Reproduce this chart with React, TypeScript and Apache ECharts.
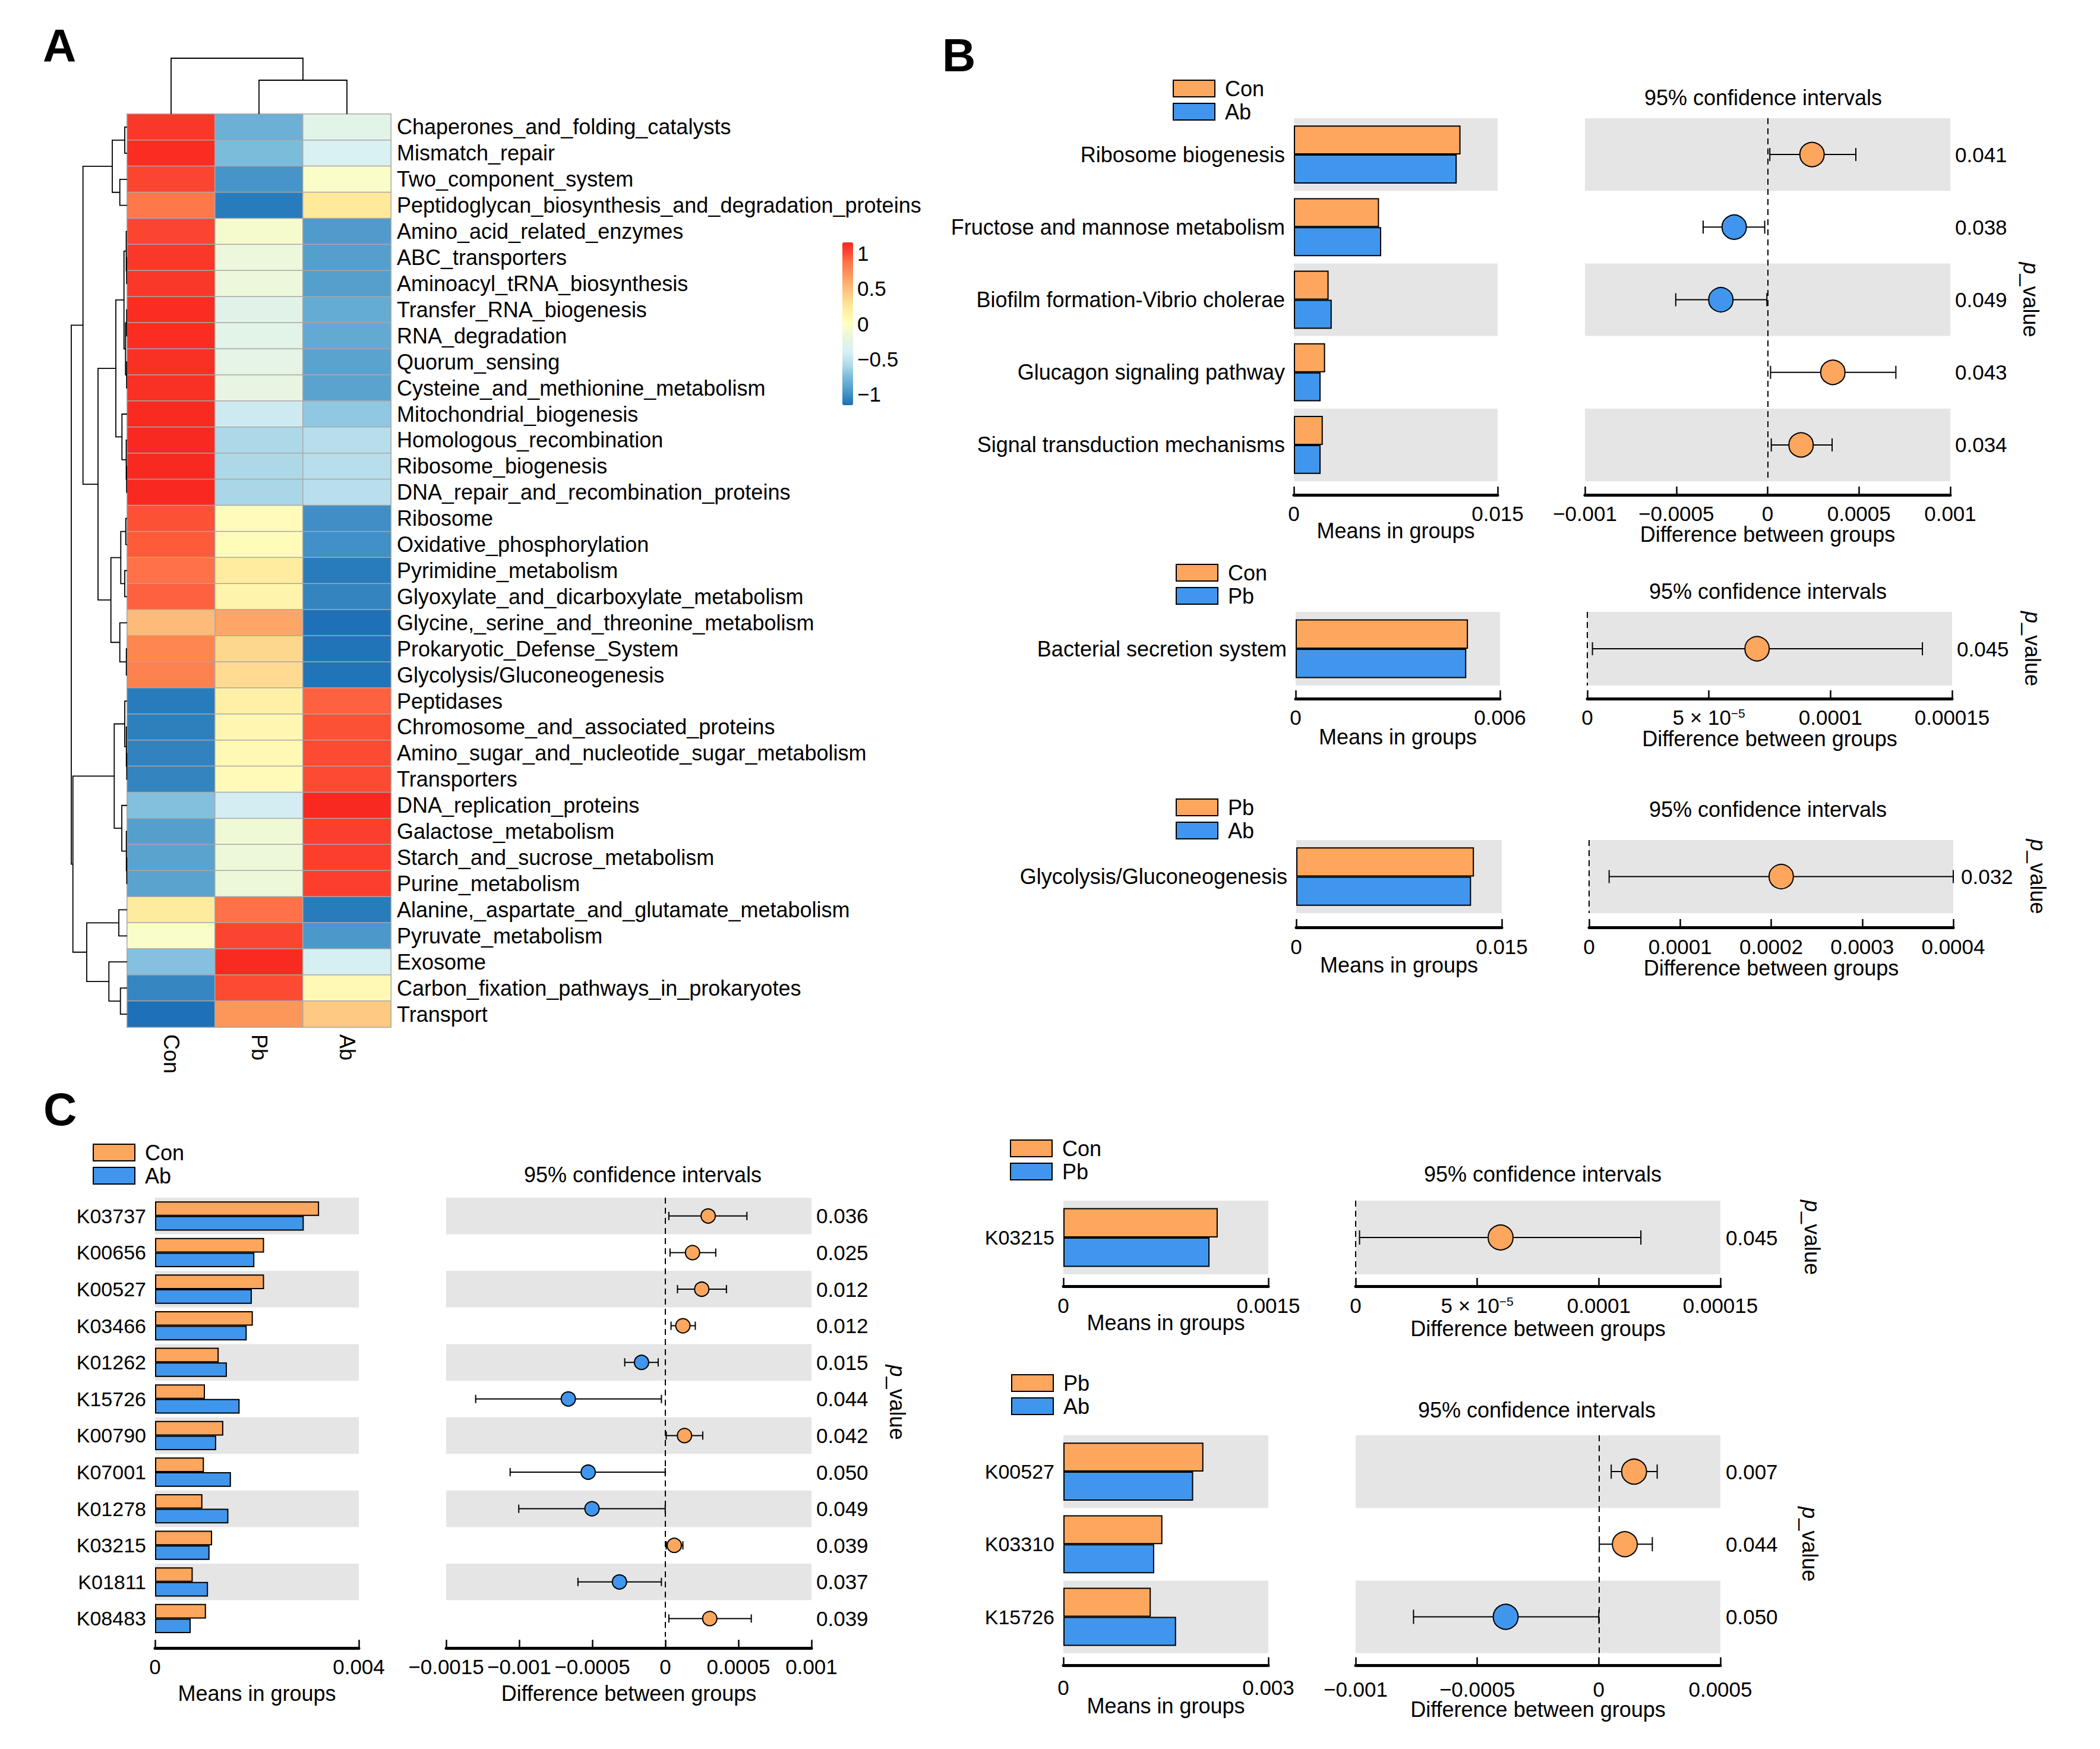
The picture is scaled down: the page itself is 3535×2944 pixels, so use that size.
import React, { useEffect, useRef } from 'react';
import * as echarts from 'echarts';

const FONT = '"Liberation Sans", Arial, Helvetica, sans-serif';
const ORANGE = '#FDA65D';
const BLUE = '#4096EC';
const GREY = '#E5E5E5';

// ---------------- Panel A: heatmap ----------------
const hmRows = [
  'Chaperones_and_folding_catalysts', 'Mismatch_repair', 'Two_component_system',
  'Peptidoglycan_biosynthesis_and_degradation_proteins', 'Amino_acid_related_enzymes', 'ABC_transporters',
  'Aminoacyl_tRNA_biosynthesis', 'Transfer_RNA_biogenesis', 'RNA_degradation', 'Quorum_sensing',
  'Cysteine_and_methionine_metabolism', 'Mitochondrial_biogenesis', 'Homologous_recombination',
  'Ribosome_biogenesis', 'DNA_repair_and_recombination_proteins', 'Ribosome', 'Oxidative_phosphorylation',
  'Pyrimidine_metabolism', 'Glyoxylate_and_dicarboxylate_metabolism', 'Glycine,_serine_and_threonine_metabolism',
  'Prokaryotic_Defense_System', 'Glycolysis/Gluconeogenesis', 'Peptidases', 'Chromosome_and_associated_proteins',
  'Amino_sugar_and_nucleotide_sugar_metabolism', 'Transporters', 'DNA_replication_proteins', 'Galactose_metabolism',
  'Starch_and_sucrose_metabolism', 'Purine_metabolism', 'Alanine,_aspartate_and_glutamate_metabolism',
  'Pyruvate_metabolism', 'Exosome', 'Carbon_fixation_pathways_in_prokaryotes', 'Transport',
];
const hmCols = ['Con', 'Pb', 'Ab'];
const hmCon = [1.08, 1.13, 1.02, 0.85, 1.02, 1.08, 1.08, 1.13, 1.13, 1.12, 1.12, 1.14, 1.15, 1.15, 1.15,
  0.98, 0.95, 0.88, 0.93, 0.52, 0.78, 0.8, -1.1, -1.08, -1.07, -1.06, -0.73, -0.92, -0.9, -0.9,
  0.23, -0.05, -0.72, -1.05, -1.14];
const hmPb = [-0.82, -0.75, -0.98, -1.1, -0.08, -0.16, -0.16, -0.28, -0.27, -0.22, -0.2, -0.45, -0.6, -0.6, -0.61,
  0.03, 0.05, 0.22, 0.13, 0.62, 0.35, 0.33, 0.17, 0.1, 0.07, 0.06, -0.42, -0.12, -0.15, -0.15,
  0.88, 1.02, 1.14, 1.0, 0.7];
const hmAb = [-0.26, -0.38, -0.04, 0.25, -0.94, -0.92, -0.92, -0.85, -0.86, -0.9, -0.9, -0.69, -0.55, -0.55, -0.54,
  -1.01, -1.0, -1.1, -1.06, -1.14, -1.13, -1.13, 0.93, 0.98, 1.0, 1.0, 1.15, 1.05, 1.05, 1.05,
  -1.1, -0.96, -0.41, 0.07, 0.44];
// node = leaf index | [height, left, right]
const rowTree: any = [94,
  [74.3,
    [25, [4, 0, 1], [12.3, 2, 3]],
    [49,
      [19,
        [5.3, [1.5, 4, [0.8, 5, 6]], [2.7, [0.8, 7, 8], [0.8, 9, 10]]],
        [8.7, 11, [1.5, 12, [0.8, 13, 14]]]],
      [27.3,
        [10.7, [2.3, 15, 16], [4, 17, 18]],
        [12.3, 19, [1.3, 20, 21]]]]],
  [91.3,
    [21.7,
      [4, 22, [1.3, 23, [0.6, 24, 25]]],
      [9, 26, [1.3, 27, [0.6, 28, 29]]]],
    [68,
      [14, 30, 31],
      [30.7, 32, [11.3, 33, 34]]]]];
const colTree: any = [94, 0, [57, 1, 2]];
const hmTicks = [1, 0.5, 0, -0.5, -1];
const HM_MIN = -1.155;
const HM_MAX = 1.155;
const hmColorStops: [number, string][] = [
  [-1.155, '#1A6DB6'], [-1.1, '#2A7CBB'], [-1.0, '#4290C6'], [-0.9, '#5AA3CF'], [-0.75, '#7BBCDB'],
  [-0.6, '#ADD8E8'], [-0.4, '#D8F0F4'], [-0.2, '#E7F5E2'], [0, '#FFFFC0'], [0.25, '#FFE99A'],
  [0.5, '#FDBE7C'], [0.7, '#FD9659'], [0.88, '#FF7248'], [1.0, '#FD4A33'], [1.155, '#F8281F'],
];

// ---------------- Panel B ----------------
const b1Terms = ['Ribosome biogenesis', 'Fructose and mannose metabolism', 'Biofilm formation-Vibrio cholerae',
  'Glucagon signaling pathway', 'Signal transduction mechanisms'];
const b1Con = [0.01227, 0.00627, 0.00256, 0.0023, 0.00213];
const b1Ab = [0.01199, 0.00643, 0.00279, 0.00197, 0.00197];
const b1Diff = [0.000243, -0.000183, -0.000256, 0.000357, 0.000183];
const b1Lo = [0.000012, -0.000353, -0.000503, 0.000016, 0.00002];
const b1Hi = [0.000483, -0.000016, -0.000004, 0.000702, 0.000353];
const b1P = ['0.041', '0.038', '0.049', '0.043', '0.034'];

const b2Terms = ['Bacterial secretion system'];
const b2Con = [0.00506];
const b2Pb = [0.00501];
const b2Diff = [0.0000698];
const b2Lo = [0.0000021];
const b2Hi = [0.0001378];
const b2P = ['0.045'];

const b3Terms = ['Glycolysis/Gluconeogenesis'];
const b3Pb = [0.01297];
const b3Ab = [0.01276];
const b3Diff = [0.000211];
const b3Lo = [0.000022];
const b3Hi = [0.0004];
const b3P = ['0.032'];

// ---------------- Panel C ----------------
const c1Terms = ['K03737', 'K00656', 'K00527', 'K03466', 'K01262', 'K15726', 'K00790', 'K07001', 'K01278', 'K03215', 'K01811', 'K08483'];
const c1Con = [0.00322, 0.00214, 0.00214, 0.00192, 0.00125, 0.00098, 0.00134, 0.00096, 0.00093, 0.00112, 0.00074, 0.001];
const c1Ab = [0.00292, 0.00195, 0.0019, 0.0018, 0.00141, 0.00166, 0.0012, 0.00149, 0.00144, 0.00107, 0.00104, 0.0007];
const c1Diff = [0.000293, 0.000186, 0.000249, 0.00012, -0.000163, -0.000664, 0.000131, -0.000528, -0.000502, 0.000061, -0.000314, 0.000304];
const c1Lo = [0.000024, 0.000032, 0.000083, 0.000039, -0.000278, -0.001298, 0.000006, -0.001062, -0.001003, 0.000006, -0.000598, 0.000024];
const c1Hi = [0.000558, 0.000345, 0.000418, 0.000205, -0.000049, -0.000027, 0.000256, -0.000001, -0.000001, 0.00012, -0.000027, 0.000588];
const c1P = ['0.036', '0.025', '0.012', '0.012', '0.015', '0.044', '0.042', '0.050', '0.049', '0.039', '0.037', '0.039'];

const c2Terms = ['K03215'];
const c2Con = [0.00113];
const c2Pb = [0.00107];
const c2Diff = [0.0000596];
const c2Lo = [0.0000016];
const c2Hi = [0.0001173];
const c2P = ['0.045'];

const c3Terms = ['K00527', 'K03310', 'K15726'];
const c3Pb = [0.00205, 0.00145, 0.00128];
const c3Ab = [0.0019, 0.00133, 0.00165];
const c3Diff = [0.000145, 0.000107, -0.000383];
const c3Lo = [0.000051, 0.000002, -0.000762];
const c3Hi = [0.00024, 0.00022, 0];
const c3P = ['0.007', '0.044', '0.050'];

// ---------------- helpers ----------------
function hexRgb(h: string) {
  const n = parseInt(h.slice(1), 16);
  return [(n >> 16) & 255, (n >> 8) & 255, n & 255];
}
function buildPalette(n: number) {
  const out: string[] = [];
  const s = hmColorStops;
  const min = s[0][0], max = s[s.length - 1][0];
  for (let i = 0; i < n; i++) {
    const v = min + ((max - min) * i) / (n - 1);
    let j = 0;
    while (j < s.length - 2 && v > s[j + 1][0]) j++;
    const t = Math.max(0, Math.min(1, (v - s[j][0]) / (s[j + 1][0] - s[j][0])));
    const a = hexRgb(s[j][1]), b = hexRgb(s[j + 1][1]);
    const c = a.map((x, k) => Math.round(x + (b[k] - x) * t));
    out.push(`rgb(${c[0]},${c[1]},${c[2]})`);
  }
  return out;
}
function treeSegs(node: any, out: number[][][]): { pos: number; h: number } {
  if (typeof node === 'number') return { pos: node + 0.5, h: 0 };
  const [h, l, r] = node;
  const a = treeSegs(l, out);
  const b = treeSegs(r, out);
  out.push([[a.h, a.pos], [h, a.pos], [h, b.pos], [b.h, b.pos]]);
  return { pos: (a.pos + b.pos) / 2, h };
}
const minus = (s: string) => s.replace('-', '\u2212');
function fmtNum(v: number) {
  if (Math.abs(v) < 1e-12) return '0';
  return minus(String(Number(v.toPrecision(6))));
}
function fmtCI(v: number) {
  if (Math.abs(v - 5e-5) < 1e-10) return '5 \u00d7 10{s|\u22125}';
  return fmtNum(v);
}

function buildOption() {
  const grid: any[] = [];
  const xAxis: any[] = [];
  const yAxis: any[] = [];
  const series: any[] = [];
  const legend: any[] = [];
  const graphic: any[] = [];
  const txt = (x: number, y: number, text: string, size: number, extra: any = {}) => ({
    type: 'text', x, y, silent: true,
    style: {
      text, fontSize: size, fontFamily: FONT, fill: '#000',
      align: 'center', textAlign: 'center', verticalAlign: 'middle', textVerticalAlign: 'middle', ...extra,
    },
  });
  const addGrid = (g: any) => { grid.push({ outerBoundsMode: 'none', containLabel: false, ...g }); return grid.length - 1; };

  // heatmap grid
  const HM_TOP = 192, HM_H = 1537;
  const gh = addGrid({ left: 214, top: HM_TOP, width: 444, height: HM_H });
  xAxis.push({
    gridIndex: gh, type: 'category', data: hmCols, axisLine: { show: false }, axisTick: { show: false },
    splitLine: { show: false },
    axisLabel: { rotate: -90, margin: 12, fontSize: 36, fontFamily: FONT, color: '#000', interval: 0 },
  });
  yAxis.push({
    gridIndex: gh, type: 'category', data: hmRows, inverse: true, position: 'right',
    axisLine: { show: false }, axisTick: { show: false }, splitLine: { show: false },
    axisLabel: { margin: 10, fontSize: 36, fontFamily: FONT, color: '#000', interval: 0 },
  });
  const hmData: any[] = [];
  hmRows.forEach((_, r) => {
    [hmCon, hmPb, hmAb].forEach((arr, c) => hmData.push([c, r, arr[r]]));
  });
  series.push({
    type: 'heatmap', xAxisIndex: gh, yAxisIndex: gh, data: hmData,
    itemStyle: { borderColor: '#A8A8A8', borderWidth: 1.5 }, emphasis: { disabled: true },
  });

  // row dendrogram
  const gr = addGrid({ left: 100, top: HM_TOP, width: 114, height: HM_H });
  xAxis.push({ gridIndex: gr, type: 'value', min: 0, max: 114, inverse: true, show: false });
  yAxis.push({ gridIndex: gr, type: 'value', min: 0, max: hmRows.length, inverse: true, show: false });
  const rowSegs: number[][][] = [];
  treeSegs(rowTree, rowSegs);
  series.push({
    type: 'lines', coordinateSystem: 'cartesian2d', xAxisIndex: gr, yAxisIndex: gr, polyline: true, silent: true,
    data: rowSegs.map((c) => ({ coords: c })), lineStyle: { color: '#000', width: 1.8, opacity: 1 },
  });

  // column dendrogram
  const gcd = addGrid({ left: 214, top: 92, width: 444, height: 100 });
  xAxis.push({ gridIndex: gcd, type: 'value', min: 0, max: hmCols.length, show: false });
  yAxis.push({ gridIndex: gcd, type: 'value', min: 0, max: 100, show: false });
  const colSegs: number[][][] = [];
  treeSegs(colTree, colSegs);
  series.push({
    type: 'lines', coordinateSystem: 'cartesian2d', xAxisIndex: gcd, yAxisIndex: gcd, polyline: true, silent: true,
    data: colSegs.map((c) => ({ coords: c.map(([h, p]) => [p, h]) })), lineStyle: { color: '#000', width: 1.8, opacity: 1 },
  });

  // heatmap legend labels
  const LEG_TOP = 408, LEG_H = 274;
  hmTicks.forEach((v) => {
    const y = LEG_TOP + ((HM_MAX - v) / (HM_MAX - HM_MIN)) * LEG_H;
    graphic.push(txt(1443, y, fmtNum(v), 35, { align: 'left', textAlign: 'left' }));
  });

  // ---- comparison panels ----
  const addPanel = (d: any, L: any) => {
    const n = d.terms.length;
    const h = n * L.rowH;
    const valAxis = (gi: number, min: number, max: number, step: number, name: string, nameGap: number, fmt: any, margin: number) => ({
      gridIndex: gi, type: 'value', min, max, interval: step, offset: L.axisOffset,
      axisLine: { show: true, onZero: false, lineStyle: { color: '#000', width: 5 } },
      axisTick: { show: true, inside: true, length: 14, lineStyle: { color: '#000', width: 2.5 } },
      splitLine: { show: false },
      axisLabel: {
        margin, fontSize: 35, fontFamily: FONT, color: '#000', formatter: fmt,
        showMinLabel: true, showMaxLabel: true, hideOverlap: false,
        rich: { s: { fontSize: 21, fontFamily: FONT, color: '#000', verticalAlign: 'top' } },
      },
      name, nameLocation: 'middle', nameGap, nameMoveOverlap: false,
      nameTextStyle: { fontSize: 36, fontFamily: FONT, color: '#000' },
    });
    const catAxis = (gi: number) => ({
      gridIndex: gi, type: 'category', data: d.terms, inverse: true,
      axisLine: { show: false }, axisTick: { show: false }, splitLine: { show: false },
      splitArea: { show: true, interval: 0, areaStyle: { color: [GREY, 'rgba(255,255,255,0)'] } },
    });
    // bars
    const gb = addGrid({ left: L.barLeft, top: L.top, width: L.barWidth, height: h });
    xAxis.push(valAxis(gb, 0, L.barMax, L.barMax, 'Means in groups', L.barNameGap, fmtNum, L.labelMargin));
    yAxis.push({ ...catAxis(gb), axisLabel: { interval: 0, margin: 15, fontSize: L.catSize, fontFamily: FONT, color: '#000' } });
    const n1 = `${d.id}|${d.g1Name}`;
    const n2 = `${d.id}|${d.g2Name}`;
    series.push({
      type: 'bar', name: n1, xAxisIndex: gb, yAxisIndex: gb, data: d.g1, barGap: '0%', barCategoryGap: '20%',
      itemStyle: { color: ORANGE, borderColor: '#000', borderWidth: 2 }, emphasis: { disabled: true },
    });
    series.push({
      type: 'bar', name: n2, xAxisIndex: gb, yAxisIndex: gb, data: d.g2, barGap: '0%', barCategoryGap: '20%',
      itemStyle: { color: BLUE, borderColor: '#000', borderWidth: 2 }, emphasis: { disabled: true },
    });
    // CI
    const gc = addGrid({ left: L.ciLeft, top: L.top, width: L.ciWidth, height: h });
    xAxis.push(valAxis(gc, L.ciMin, L.ciMax, L.ciStep, 'Difference between groups', L.ciNameGap, fmtCI, L.ciLabelMargin));
    yAxis.push({
      ...catAxis(gc), position: 'right',
      axisLabel: { interval: 0, margin: L.pMargin, fontSize: 35, fontFamily: FONT, color: '#000', formatter: (_v: any, i: number) => d.p[i] },
      name: '{i|p}_value', nameLocation: 'middle', nameRotate: -90, nameGap: L.pGap, nameMoveOverlap: false,
      nameTextStyle: {
        fontSize: 36, fontFamily: FONT, color: '#000', padding: L.pPad,
        rich: { i: { fontSize: 36, fontFamily: FONT, fontStyle: 'italic', color: '#000' } },
      },
    });
    const r = L.r, cap = L.cap;
    series.push({
      type: 'custom', xAxisIndex: gc, yAxisIndex: gc, clip: false,
      data: d.diff.map((m: number, i: number) => [m, i, d.lo[i], d.hi[i]]),
      encode: { x: [0, 2, 3], y: 1 },
      renderItem: (_p: any, api: any) => {
        const m = api.value(0);
        const yi = api.value(1);
        const pc = api.coord([m, yi]);
        const pl = api.coord([api.value(2), yi]);
        const ph = api.coord([api.value(3), yi]);
        const ls = { stroke: '#000', lineWidth: 2 };
        return {
          type: 'group',
          children: [
            { type: 'line', shape: { x1: pl[0], y1: pc[1], x2: ph[0], y2: pc[1] }, style: ls },
            { type: 'line', shape: { x1: pl[0], y1: pc[1] - cap, x2: pl[0], y2: pc[1] + cap }, style: ls },
            { type: 'line', shape: { x1: ph[0], y1: pc[1] - cap, x2: ph[0], y2: pc[1] + cap }, style: ls },
            { type: 'circle', shape: { cx: pc[0], cy: pc[1], r }, style: { fill: m > 0 ? ORANGE : BLUE, stroke: '#000', lineWidth: 2 } },
          ],
        };
      },
      markLine: {
        silent: true, symbol: ['none', 'none'], label: { show: false },
        lineStyle: { color: '#000', type: [10, 7], width: 2 }, data: [{ xAxis: 0 }],
      },
    });
    legend.push({
      left: L.legendLeft, top: L.legendTop, orient: 'vertical', padding: 0, itemGap: 3,
      itemWidth: 70, itemHeight: 28, icon: 'rect', selectedMode: false, data: [n1, n2],
      formatter: (nm: string) => `{t|${nm.split('|')[1]}}`,
      textStyle: {
        fontSize: 36, fontFamily: FONT, color: '#000',
        rich: { t: { fontSize: 36, fontFamily: FONT, color: '#000', padding: [0, 0, 0, 12] } },
      },
      itemStyle: { borderColor: '#000', borderWidth: 2 },
    });
    graphic.push(txt(L.titleX, L.titleY, '95% confidence intervals', 36));
  };

  addPanel(
    { id: 'b1', terms: b1Terms, g1Name: 'Con', g2Name: 'Ab', g1: b1Con, g2: b1Ab, diff: b1Diff, lo: b1Lo, hi: b1Hi, p: b1P },
    { barLeft: 2178, barWidth: 343, ciLeft: 2668, ciWidth: 615, top: 199, rowH: 122.2, axisOffset: 23,
      labelMargin: 14, ciLabelMargin: 14, barNameGap: 42, ciNameGap: 48, catSize: 36, pMargin: 8, pPad: 0,
      barMax: 0.015, ciMin: -0.001, ciMax: 0.001, ciStep: 0.0005, r: 20.5, cap: 11,
      legendLeft: 1974, legendTop: 131, titleX: 2968, titleY: 164, pGap: 117 },
  );
  addPanel(
    { id: 'b2', terms: b2Terms, g1Name: 'Con', g2Name: 'Pb', g1: b2Con, g2: b2Pb, diff: b2Diff, lo: b2Lo, hi: b2Hi, p: b2P },
    { barLeft: 2181, barWidth: 344, ciLeft: 2672, ciWidth: 614, top: 1030, rowH: 124, axisOffset: 22,
      labelMargin: 14, ciLabelMargin: 14, barNameGap: 46, ciNameGap: 49, catSize: 36, pMargin: 8, pPad: 0,
      barMax: 0.006, ciMin: 0, ciMax: 0.00015, ciStep: 0.00005, r: 20.5, cap: 11,
      legendLeft: 1979, legendTop: 946, titleX: 2976, titleY: 995, pGap: 117 },
  );
  addPanel(
    { id: 'b3', terms: b3Terms, g1Name: 'Pb', g2Name: 'Ab', g1: b3Pb, g2: b3Ab, diff: b3Diff, lo: b3Lo, hi: b3Hi, p: b3P },
    { barLeft: 2182, barWidth: 346, ciLeft: 2675, ciWidth: 613, top: 1414, rowH: 123, axisOffset: 24,
      labelMargin: 15, ciLabelMargin: 15, barNameGap: 45, ciNameGap: 50, catSize: 36, pMargin: 13, pPad: 0,
      barMax: 0.015, ciMin: 0, ciMax: 0.0004, ciStep: 0.0001, r: 20.5, cap: 11,
      legendLeft: 1979, legendTop: 1341, titleX: 2976, titleY: 1362, pGap: 124 },
  );
  addPanel(
    { id: 'c1', terms: c1Terms, g1Name: 'Con', g2Name: 'Ab', g1: c1Con, g2: c1Ab, diff: c1Diff, lo: c1Lo, hi: c1Hi, p: c1P },
    { barLeft: 261, barWidth: 343, ciLeft: 751, ciWidth: 615, top: 2016, rowH: 61.6, axisOffset: 19,
      labelMargin: 14, ciLabelMargin: 14, barNameGap: 58, ciNameGap: 58, catSize: 34, pMargin: 8, pPad: [0, 50, 0, 0],
      barMax: 0.004, ciMin: -0.0015, ciMax: 0.001, ciStep: 0.0005, r: 12, cap: 7,
      legendLeft: 156, legendTop: 1922, titleX: 1082, titleY: 1977, pGap: 126 },
  );
  addPanel(
    { id: 'c2', terms: c2Terms, g1Name: 'Con', g2Name: 'Pb', g1: c2Con, g2: c2Pb, diff: c2Diff, lo: c2Lo, hi: c2Hi, p: c2P },
    { barLeft: 1790, barWidth: 345, ciLeft: 2282, ciWidth: 614, top: 2021, rowH: 124, axisOffset: 20,
      labelMargin: 15, ciLabelMargin: 15, barNameGap: 43, ciNameGap: 53, catSize: 34, pMargin: 9, pPad: 0,
      barMax: 0.0015, ciMin: 0, ciMax: 0.00015, ciStep: 0.00005, r: 21, cap: 12,
      legendLeft: 1700, legendTop: 1915, titleX: 2597, titleY: 1976, pGap: 136 },
  );
  addPanel(
    { id: 'c3', terms: c3Terms, g1Name: 'Pb', g2Name: 'Ab', g1: c3Pb, g2: c3Ab, diff: c3Diff, lo: c3Lo, hi: c3Hi, p: c3P },
    { barLeft: 1790, barWidth: 345, ciLeft: 2282, ciWidth: 614, top: 2416, rowH: 122.2, axisOffset: 21,
      labelMargin: 19, ciLabelMargin: 22, barNameGap: 50, ciNameGap: 56, catSize: 34, pMargin: 9, pPad: 0,
      barMax: 0.003, ciMin: -0.001, ciMax: 0.0005, ciStep: 0.0005, r: 21, cap: 12,
      legendLeft: 1702, legendTop: 2310, titleX: 2587, titleY: 2373, pGap: 132 },
  );

  // panel letters
  const bold = { fontWeight: 'bold', align: 'left', textAlign: 'left' };
  graphic.push(txt(72, 77, 'A', 78, bold));
  graphic.push(txt(1586, 93, 'B', 78, bold));
  graphic.push(txt(73, 1867, 'C', 78, bold));

  return {
    animation: false,
    backgroundColor: '#fff',
    textStyle: { fontFamily: FONT },
    grid, xAxis, yAxis, series, legend, graphic,
    visualMap: [{
      type: 'continuous', seriesIndex: 0, min: HM_MIN, max: HM_MAX, inRange: { color: buildPalette(101) },
      show: true, left: 1418, top: LEG_TOP, itemWidth: 18, itemHeight: LEG_H, padding: 0,
      calculable: false, hoverLink: false,
    }],
  };
}

export default function App() {
  const ref = useRef<HTMLDivElement>(null);
  useEffect(() => {
    const chart = echarts.init(ref.current!, null, { renderer: 'svg', width: 3535, height: 2944 });
    chart.setOption(buildOption() as any);
    return () => chart.dispose();
  }, []);
  return (
    <div
      ref={ref}
      style={{ position: 'fixed', left: 0, top: 0, width: 3535, height: 2944, background: '#fff' }}
    />
  );
}
